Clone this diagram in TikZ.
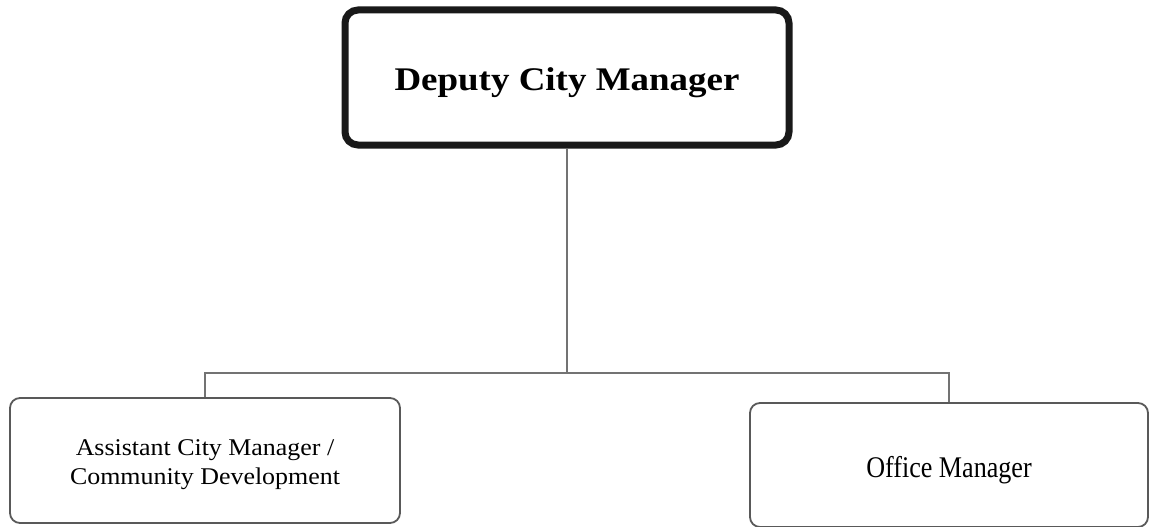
\documentclass[tikz,border=0pt]{standalone}
\usepackage{fontspec}
\setmainfont{Liberation Serif}[FakeStretch=1.12]
\newfontfamily\wideserif{Liberation Serif}[FakeStretch=1.08]
\newfontfamily\narrowserif{Liberation Serif}[FakeStretch=0.87]
\usepackage{xcolor}
\usepackage{tikz}

\begin{document}
\begin{tikzpicture}[
	x=1pt, y=-1pt,
	headbox/.style={rectangle,rounded corners=13pt,draw=black!90,line width=7pt,minimum width=444pt,minimum height=135pt,text height=32pt,text depth=7pt,font=\fontsize{33}{36}\selectfont\bfseries},
	staffbox/.style={rectangle,rounded corners=10pt,draw=black!65,line width=1.8pt,align=center},
	link/.style={draw=black!55,line width=1.8pt}
]
	\useasboundingbox (0,0) rectangle (1149,527);
	\node[headbox] (dcm) at (567,77.5) {Deputy City Manager};
	\node[staffbox,minimum width=390pt,minimum height=125pt,text height=53pt,text depth=6pt,font=\wideserif\fontsize{24}{29}\selectfont] (acm) at (205,460.5) {Assistant City Manager /\\Community Development};
	\node[staffbox,minimum width=398pt,minimum height=124pt,text height=30pt,text depth=6pt,font=\narrowserif\fontsize{30}{32}\selectfont] (om) at (949,465) {Office Manager};
	\coordinate (bus) at (567,373);
	\draw[link] (dcm.south) -- (bus);
	\draw[link] (acm.north) -- (acm.north |- bus) -- (om.north |- bus) -- (om.north);
\end{tikzpicture}
\end{document}
